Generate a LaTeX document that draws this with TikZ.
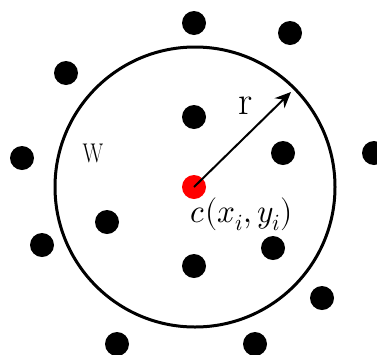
\documentclass[tikz,border=0pt]{standalone}
\usepackage{fontspec}
\usepackage{unicode-math}
\setmainfont{Latin Modern Roman}
\setmathfont{Latin Modern Math}
\usetikzlibrary{arrows.meta}
\begin{document}
\begin{tikzpicture}[x=1pt,y=-1pt,
  dot/.style={circle,fill=black,inner sep=0pt,minimum size=24pt},
  reddot/.style={circle,fill=red,inner sep=0pt,minimum size=24pt},
  ring/.style={circle,draw=black,line width=3pt,inner sep=0pt,minimum size=280pt},
  radius arrow/.style={line width=2pt,-{Stealth[length=16pt,width=14pt]}}]
\useasboundingbox (0,0) rectangle (377,354);
\clip (0,0) rectangle (377,354);
\node[ring] (win) at (195,187) {};
\node[dot] (p1) at (194,23) {};
\node[dot] (p2) at (290,33) {};
\node[dot] (p3) at (66,73) {};
\node[dot] (p4) at (194,117) {};
\node[dot] (p5) at (283,153) {};
\node[dot] (p6) at (22,158) {};
\node[dot] (p7) at (374,153) {};
\node[dot] (p8) at (107,222) {};
\node[dot] (p9) at (42,245) {};
\node[dot] (p10) at (273,248) {};
\node[dot] (p11) at (194,266) {};
\node[dot] (p12) at (322,298) {};
\node[dot] (p13) at (117,344) {};
\node[dot] (p14) at (255,344) {};
\node[reddot] (c) at (194,187) {};
\coordinate (rt) at (291,92);
\draw[radius arrow] (c.center) -- (rt);
\node[inner sep=0pt] (rlab) at (246,106) {\fontsize{40}{40}\selectfont r};
\node[inner sep=0pt,xscale=0.8] (wlab) at (93,153) {\fontsize{27}{27}\selectfont W};
\node[inner sep=0pt,xscale=0.95] (clab) at (242,214) {\fontsize{33}{33}\selectfont $c(x_{i},y_{i})$};
\end{tikzpicture}
\end{document}
